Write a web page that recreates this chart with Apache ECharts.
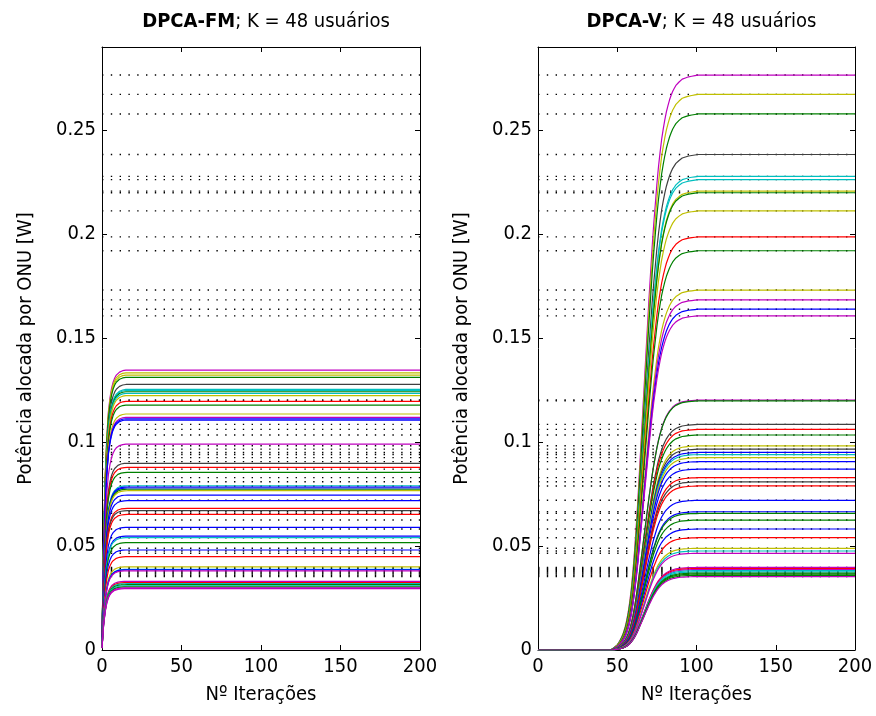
<!DOCTYPE html>
<html><head><meta charset="utf-8">
<script src="https://cdn.jsdelivr.net/npm/echarts@6/dist/echarts.min.js"></script>
<style>html,body{margin:0;padding:0;background:#fff}#c{width:876px;height:716px}</style>
</head><body><div id="c"></div>
<script>
// target powers (dotted black lines) = converged DPCA-V values
const targets = [0.2765,0.2672,0.2578,0.2383,0.2278,0.2262,0.2207,0.2199,0.2112,0.1987,0.1920,0.1731,0.1684,0.1639,0.1607,
  0.1202,0.1198,0.1085,0.1061,0.1034,0.0982,0.0966,0.0950,0.0940,0.0925,0.0906,0.0870,0.0829,0.0809,0.0789,0.0720,0.0665,0.0657,0.0625,0.0582,0.0540,0.0489,0.0476,0.0465,
  0.0397,0.0392,0.0387,0.0382,0.0376,0.0370,0.0365,0.0359,0.0353];
const vColors = ['m','y','g','k','c','c','y','g','y','r','g','y','m','b','m',
  'm','g','k','r','g','y','k','b','c','y','b','b','r','k','r','b','b','g','g','b','r','y','c','m',
  'm','r','m','c','c','g','g','g','m'];
// converged DPCA-FM values
const fmFinal = [0.1346,0.1333,0.1322,0.1311,0.1277,0.1253,0.1248,0.1242,0.1234,0.1223,0.1196,0.1178,0.1135,0.1119,0.1112,0.1106,
  0.0990,0.0898,0.0878,0.0854,0.0790,0.0784,0.0779,0.0773,0.0766,0.0745,0.0718,0.0681,0.0670,0.0652,0.0590,0.0548,0.0540,0.0516,0.0481,0.0449,
  0.0400,0.0388,0.0386,0.0381,0.0330,0.0324,0.0319,0.0314,0.0309,0.0304,0.0299,0.0295];
const fmColors = ['m','y','y','g','k','c','c','g','c','y','r','g','y','m','b','b',
  'm','k','r','g','c','b','b','g','y','b','b','r','k','r','b','b','c','g','b','r',
  'y','c','b','m','m','r','c','g','c','g','m','m'];
// transient fraction of final value, DPCA-FM, iterations 0..15
const fmProfile = [0.03,0.40,0.62,0.76,0.85,0.90,0.935,0.957,0.972,0.982,0.989,0.993,0.996,0.998,0.999,1];
// transient fraction of final value, DPCA-V, iterations 46..102
const vStart = 46;
const vProfile = [0,0.002,0.004,0.006,0.009,0.013,0.018,0.024,0.031,0.040,0.052,0.067,0.086,0.11,0.14,0.175,0.215,0.26,0.31,0.36,0.41,0.46,0.51,0.56,0.61,0.655,0.70,0.74,0.775,0.81,0.84,0.865,0.888,0.906,0.922,0.936,0.947,0.957,0.965,0.972,0.977,0.982,0.985,0.988,0.991,0.993,0.994,0.995,0.996,0.997,0.998,0.998,0.999,0.999,0.999,1,1];
const nIter = 200;
const xTicks = [0,50,100,150,200];
const yTicks = [0,0.05,0.1,0.15,0.2,0.25];
const titles = [['DPCA-FM','; K = 48 usuários'],['DPCA-V','; K = 48 usuários']];

const palette = {b:'#0000FF',g:'#008000',r:'#FF0000',c:'#00BFBF',m:'#BF00BF',y:'#BFBF00',k:'#404040'};
const FONT = '"Liberation Sans Narrow","DejaVu Sans Condensed","Liberation Sans",Arial,sans-serif';

function fmSeries(fin){
  const d=[];
  for(let n=0;n<=nIter;n++){ const f = n<fmProfile.length?fmProfile[n]:1; d.push([n, fin*f]); }
  return d;
}
function vSeries(fin){
  const d=[];
  for(let n=0;n<=nIter;n++){
    let f; if(n<vStart) f=0; else if(n-vStart<vProfile.length) f=vProfile[n-vStart]; else f=1;
    d.push([n, fin*f]);
  }
  return d;
}

const grids = [{left:102,top:47,width:318,height:603},{left:538,top:47,width:317,height:603}];
const axisLineStyle = {color:'#000',width:1};
const xAxes=[], yAxes=[];
grids.forEach((g,i)=>{
  xAxes.push({type:'value',gridIndex:i,min:0,max:nIter,interval:50,position:'bottom',
    axisLine:{onZero:false,lineStyle:axisLineStyle},axisTick:{inside:true,length:5,lineStyle:axisLineStyle},
    axisLabel:{color:'#000',fontFamily:FONT,fontSize:20,margin:7},splitLine:{show:false},
    name:'Nº Iterações',nameLocation:'middle',nameGap:35,nameTextStyle:{color:'#000',fontFamily:FONT,fontSize:20}});
  xAxes.push({type:'value',gridIndex:i,min:0,max:nIter,interval:50,position:'top',
    axisLine:{onZero:false,lineStyle:axisLineStyle},axisTick:{inside:true,length:5,lineStyle:axisLineStyle},
    axisLabel:{show:false},splitLine:{show:false}});
  yAxes.push({type:'value',gridIndex:i,min:0,max:0.29,interval:0.05,position:'left',
    axisLine:{onZero:false,lineStyle:axisLineStyle},axisTick:{inside:true,length:5,lineStyle:axisLineStyle},
    axisLabel:{color:'#000',fontFamily:FONT,fontSize:20,margin:6,showMaxLabel:false,
      formatter:v=>yTicks.some(t=>Math.abs(t-v)<1e-9)?String(+v.toFixed(2)):''},splitLine:{show:false},
    name:'Potência alocada por ONU [W]',nameLocation:'middle',nameGap:66,nameTextStyle:{color:'#000',fontFamily:FONT,fontSize:20}});
  yAxes.push({type:'value',gridIndex:i,min:0,max:0.29,interval:0.05,position:'right',
    axisLine:{onZero:false,lineStyle:axisLineStyle},axisTick:{inside:true,length:5,lineStyle:axisLineStyle},
    axisLabel:{show:false},splitLine:{show:false}});
});

const series=[];
[0,1].forEach(i=>{
  targets.forEach(t=>{
    series.push({type:'line',xAxisIndex:2*i,yAxisIndex:2*i,data:[[0,t],[nIter,t]],symbol:'none',silent:true,z:1,
      lineStyle:{color:'#000',width:1.4,type:[1.4,7.4]}});
  });
});
fmFinal.forEach((v,k)=>{
  series.push({type:'line',xAxisIndex:0,yAxisIndex:0,data:fmSeries(v),symbol:'none',silent:true,z:2,
    lineStyle:{color:palette[fmColors[k]],width:1.2}});
});
targets.forEach((v,k)=>{
  series.push({type:'line',xAxisIndex:2,yAxisIndex:2,data:vSeries(v),symbol:'none',silent:true,z:2,
    lineStyle:{color:palette[vColors[k]],width:1.2}});
});

const chart = echarts.init(document.getElementById('c'),null,{renderer:'canvas'});
chart.setOption({
  animation:false,
  title:titles.map((t,i)=>({text:'{b|'+t[0]+'}'+t[1],left:grids[i].left+grids[i].width/2,top:7,textAlign:'center',
    textStyle:{color:'#000',fontFamily:FONT,fontSize:20,fontWeight:'normal',
      rich:{b:{fontWeight:'bold',fontFamily:FONT,fontSize:20,color:'#000'}}}})),
  grid:grids,
  xAxis:xAxes, yAxis:yAxes, series
});
</script></body></html>
